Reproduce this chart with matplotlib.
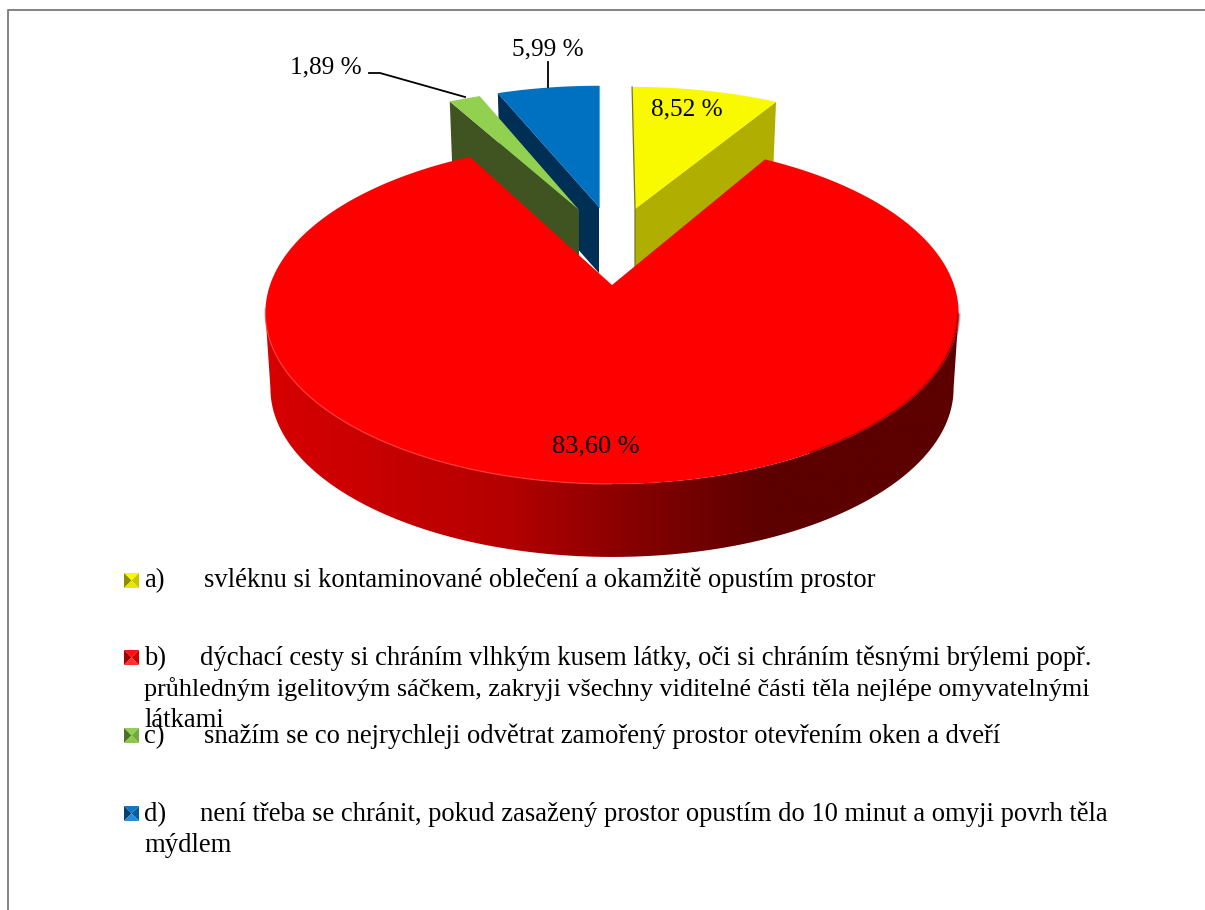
import numpy as np
import matplotlib
matplotlib.use('Agg')
import matplotlib.pyplot as plt
from matplotlib.colors import LinearSegmentedColormap
from matplotlib.patches import Polygon

# Shares of the answers, clockwise from twelve o'clock.
shares = [8.52, 83.60, 1.89, 5.99]

legend_texts = [
    'a)',
    'svléknu si kontaminované oblečení a okamžitě opustím prostor',
    'b)',
    'dýchací cesty si chráním vlhkým kusem látky, oči si chráním těsnými brýlemi popř.',
    'průhledným igelitovým sáčkem, zakryji všechny viditelné části těla nejlépe omyvatelnými',
    'látkami',
    'c)',
    'snažím se co nejrychleji odvětrat zamořený prostor otevřením oken a dveří',
    'd)',
    'není třeba se chránit, pokud zasažený prostor opustím do 10 minut a omyji povrh těla',
    'mýdlem',
]

plt.rcParams['font.family'] = ['Liberation Serif', 'DejaVu Serif']

fig = plt.figure(figsize=(12.05, 9.10), dpi=100)
ax = fig.add_axes([0, 0, 1, 1])

top_colors = ['#f9f900', '#fe0000', '#92d050', '#0070c0']
side_colors = ['#b0ae00', '#8b0000', '#3f5420', '#002f55']


def rim(theta, tip, a, b, k=0.163, lean=0.0):
    # Perspective view of a circle, theta in degrees clockwise from the top.
    t = np.radians(theta)
    u, v = np.sin(t), -np.cos(t)
    d = 1 - k * v
    y = b * v / d
    return np.column_stack([tip[0] + a * u / d + lean * y, tip[1] + y])


def top_face(t0, t1, tip, a, b, lean=0.0):
    arc = rim(np.linspace(t0, t1, 200), tip, a, b, lean=lean)
    return np.vstack([[tip], arc])


def cut_face(theta, tip, a, b, depth, lean=0.0):
    # Radial wall of a slice seen through the gap.
    low = (tip[0], tip[1] + depth)
    p0 = rim(np.array([theta]), tip, a, b, lean=lean)[0]
    p1 = rim(np.array([theta]), low, a * 0.98, b * 0.98, lean=lean)[0]
    return [tip, p0, p1, low]


edges = np.concatenate([[0], np.cumsum(shares)]) * 3.6

# Blue, green and yellow pieces pulled away from the big slice.
blue_tip = (599, 207)
ax.add_patch(Polygon(cut_face(edges[3], blue_tip, 317, 141, 66), fc=side_colors[3], ec='none', zorder=2))
ax.add_patch(Polygon(top_face(edges[3], edges[4], blue_tip, 317, 141), fc=top_colors[3], ec='none', zorder=2.1))
blue_edge = rim(np.array([edges[4]]), blue_tip, 317, 141)[0]
ax.plot([blue_edge[0], blue_tip[0]], [blue_edge[1], blue_tip[1]], c='#5aa5dc', lw=0.8, zorder=2.2)

green_tip = (579, 210)
ax.add_patch(Polygon(cut_face(edges[2], green_tip, 311, 141, 66), fc=side_colors[2], ec='none', zorder=3))
ax.add_patch(Polygon(top_face(edges[2], edges[3], green_tip, 311, 141), fc=top_colors[2], ec='none', zorder=3.1))

yellow_tip = (635, 209)
ax.add_patch(Polygon(cut_face(edges[1], yellow_tip, 321, 142, 66, lean=0.024), fc=side_colors[0], ec='none', zorder=2))
ax.add_patch(Polygon(top_face(edges[0], edges[1], yellow_tip, 321, 142, lean=0.024), fc=top_colors[0], ec='none', zorder=2.1))
yellow_edge = rim(np.array([edges[0]]), yellow_tip, 321, 142, lean=0.024)[0]
ax.plot([yellow_edge[0], yellow_tip[0], yellow_tip[0]], [yellow_edge[1], yellow_tip[1], yellow_tip[1] + 66],
        c='#77761a', lw=0.9, zorder=2.2)

# Big red slice: shaded wall first, flat top over it.
red_tip = (612, 285)
red_low = (612, 361)
wall_top = rim(np.linspace(99.4, 260.6, 300), red_tip, 342, 166.5)
wall_low = rim(np.linspace(260.6, 99.4, 300), red_low, 337, 164)
wall = Polygon(np.vstack([wall_top, wall_low]), fc='none', ec='none', zorder=4)
ax.add_patch(wall)
wall_cmap = LinearSegmentedColormap.from_list(
    'wall', [(0, '#d80000'), (0.35, '#b40000'), (0.5, '#8e0000'), (0.63, '#700000'), (0.72, '#5c0000'), (1, '#5c0000')])
img = ax.imshow(np.linspace(0, 1, 512).reshape(1, -1), cmap=wall_cmap, extent=(262, 960, 570, 280),
                aspect='auto', zorder=4)
img.set_clip_path(wall)

ax.add_patch(Polygon(top_face(edges[1], edges[2], red_tip, 342, 166.5), fc=top_colors[1], ec='none', zorder=5))

# Soft bevel along the front rim.
front_left = rim(np.linspace(180, 262, 120), red_tip, 342, 166.5)
front_right = rim(np.linspace(100, 150, 120), red_tip, 342, 166.5)
ax.plot(front_left[:, 0], front_left[:, 1], c='#ff4040', lw=1.0, alpha=0.7, zorder=5.1)
for w, al in [(3.0, 0.2), (1.6, 0.35)]:
    ax.plot(front_right[:, 0], front_right[:, 1], c='#500000', lw=w, alpha=al, zorder=5.1)


# Value labels.
def value_label(v):
    return f'{v:.2f} %'.replace('.', ',')


ax.text(687, 115, value_label(shares[0]), fontsize=18.2, ha='center', va='baseline', zorder=6)
ax.text(595.5, 452, value_label(shares[1]), fontsize=19, ha='center', va='baseline', zorder=6)
ax.text(326, 73, value_label(shares[2]), fontsize=18.2, ha='center', va='baseline', zorder=6)
ax.text(547.5, 55, value_label(shares[3]), fontsize=18.2, ha='center', va='baseline', zorder=6)

# Leader lines of the two small slices.
ax.plot([369, 380, 465], [73, 73, 97], c='black', lw=1.3, zorder=6)
ax.plot([547.5, 547.5], [62, 87], c='black', lw=1.3, zorder=6)

# Legend: bevelled keys.
marker_shades = [
    ('#f9f900', '#8f8d00', '#c8c600', '#e8e600'),
    ('#ff1010', '#a00000', '#d00000', '#ff3030'),
    ('#92d050', '#4f7029', '#76a63f', '#8cc84c'),
    ('#0f78c8', '#08406e', '#0a5c9c', '#2c8ad0'),
]
size = 15
for y0, (hi, lo, mid, bottom) in zip([573, 650, 728, 806], marker_shades):
    x0 = 124
    x1, y1 = x0 + size, y0 + size
    cx, cy = x0 + size / 2, y0 + size / 2
    ax.add_patch(Polygon([(x0, y0), (x1, y0), (cx, cy)], fc=hi, ec='none', zorder=6))
    ax.add_patch(Polygon([(x0, y0), (x0, y1), (cx, cy)], fc=lo, ec='none', zorder=6))
    ax.add_patch(Polygon([(x1, y0), (x1, y1), (cx, cy)], fc=mid, ec='none', zorder=6))
    ax.add_patch(Polygon([(x0, y1), (x1, y1), (cx, cy)], fc=bottom, ec='none', zorder=6))

# Legend entries, the long wrapped line runs a little tighter.
line_x = [144, 204, 144, 200, 144, 144, 144, 204, 144, 200, 144]
line_y = [587, 587, 665, 665, 696, 727, 743, 743, 821, 821, 852]
for x, y, s in zip(line_x, line_y, legend_texts):
    fs = 18.8 if s.startswith('průhledným') else 19.2
    ax.text(x, y, s, fontsize=fs, ha='left', va='baseline', color='black', zorder=6)

# Chart frame, only its top and left sides fall on the canvas.
ax.plot([7.5, 7.5, 1205], [910, 9.5, 9.5], c='#868686', lw=1.45, zorder=1)

ax.set_xlim(0, 1205)
ax.set_ylim(910, 0)
ax.axis('off')

fig.savefig('out.png', dpi=100)
